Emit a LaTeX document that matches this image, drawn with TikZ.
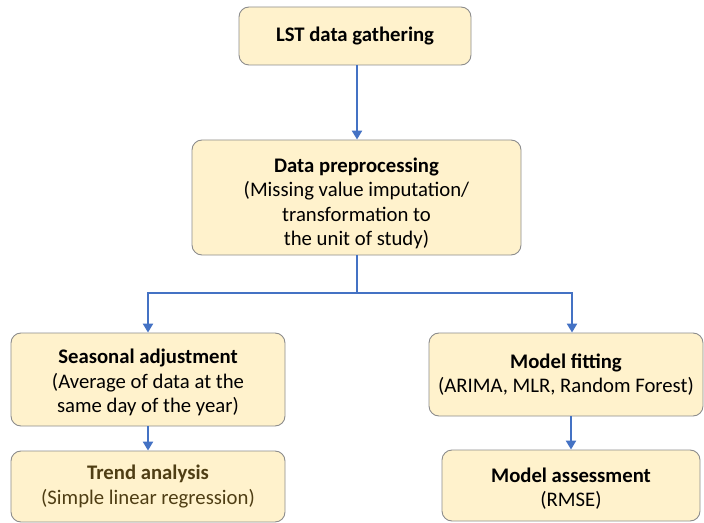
\documentclass[tikz,border=0pt]{standalone}
\usepackage{fontspec}
\setmainfont{Carlito}
\usetikzlibrary{arrows.meta}
\definecolor{boxfill}{HTML}{FFF2CC}
\definecolor{boxdraw}{HTML}{8C8C8C}
\definecolor{arrowblue}{HTML}{4472C4}
\definecolor{trendtxt}{HTML}{4F3E14}
\begin{document}
\begin{tikzpicture}[x=1bp,y=-1bp,
  box/.style={draw=boxdraw, line width=0.9bp, fill=boxfill, rounded corners=10bp,
    align=center, inner sep=0pt, font=\fontsize{20.8}{24.5}\selectfont},
  boxtext/.style={align=center, inner sep=0pt, font=\fontsize{20.8}{24.5}\selectfont},
  conn/.style={draw=arrowblue, line width=2.8bp},
  arr/.style={conn, -{Triangle[length=9bp,width=10bp]}}]
\useasboundingbox (0,0) rectangle (704,523);
\node[box, minimum width=232bp, minimum height=58bp] (gather) at (355,36) {\textbf{LST data gathering}};
\node[box, minimum width=329bp, minimum height=115bp] (prep) at (356.5,197.5) {};
\node[boxtext] (preptext) at ([yshift=-6bp]prep.center)
  {\textbf{Data preprocessing}\\(Missing value imputation/\\transformation to\\the unit of study)};
\node[box, minimum width=274bp, minimum height=93bp] (seas) at (148,379.5) {};
\node[boxtext] (seastext) at ([yshift=-3bp]seas.center)
  {\textbf{Seasonal adjustment}\\(Average of data at the\\same day of the year)};
\node[box, minimum width=274bp, minimum height=71bp, text=trendtxt] (trend) at (148,486.5)
  {\textbf{Trend analysis}\\(Simple linear regression)};
\node[box, minimum width=274bp, minimum height=83bp] (fit) at (566,374.5)
  {\textbf{Model fitting}\\(ARIMA, MLR, Random Forest)};
\node[box, minimum width=258bp, minimum height=71bp] (assess) at (571,485.5) {};
\node[boxtext] (assesstext) at ([yshift=-3bp]assess.center)
  {\textbf{Model assessment}\\(RMSE)};
\coordinate (split) at (357,293);
\draw[arr] (gather.south -| split) -- (prep.north -| split);
\draw[conn] (prep.south -| split) -- (split);
\draw[arr] (split) -| (seas.north);
\draw[arr] (split) -| ([xshift=6bp]fit.north);
\draw[arr] (seas.south) -- (trend.north);
\draw[arr] (assess.north |- fit.south) -- (assess.north);
\end{tikzpicture}
\end{document}
